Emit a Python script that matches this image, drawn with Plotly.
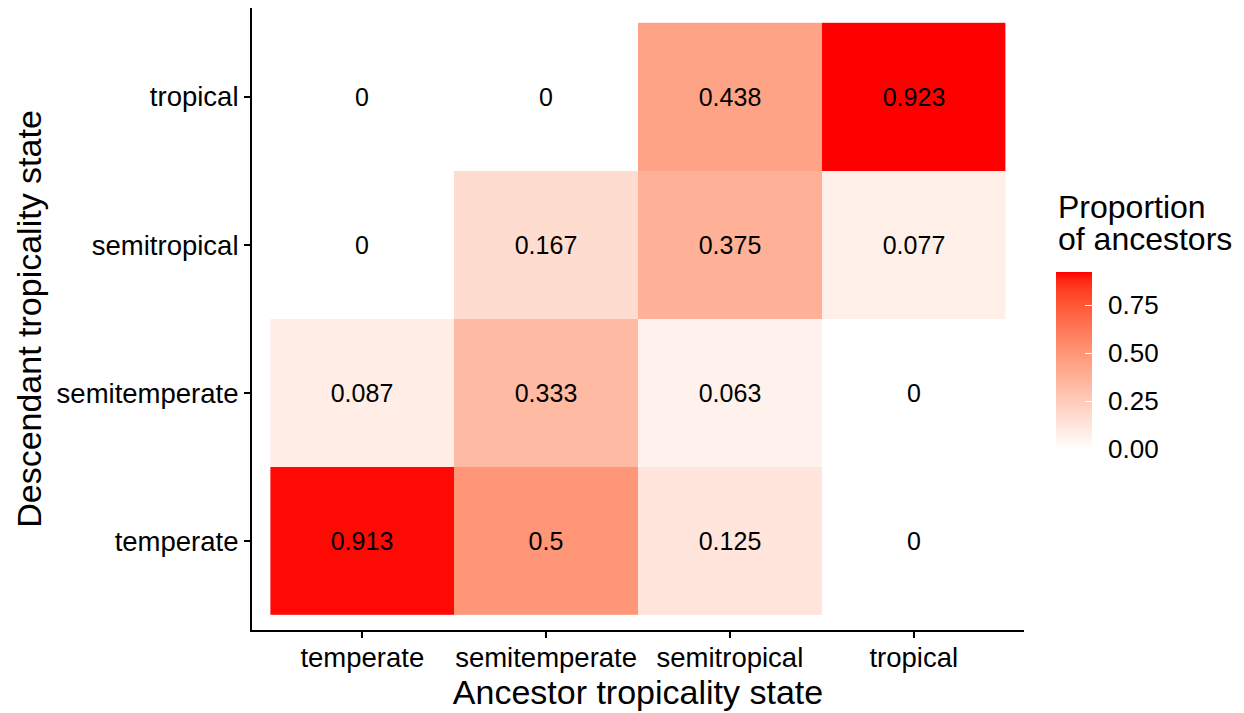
import plotly.graph_objects as go

ancestor = ["temperate", "semitemperate", "semitropical", "tropical"]
descendant = ["temperate", "semitemperate", "semitropical", "tropical"]
# rows = descendant (bottom to top), columns = ancestor
proportion = [
    [0.913, 0.5, 0.125, 0],
    [0.087, 0.333, 0.063, 0],
    [0, 0.167, 0.375, 0.077],
    [0, 0, 0.438, 0.923],
]
labels = [[("%g" % v) for v in row] for row in proportion]
cb_ticks = [0, 0.25, 0.5, 0.75]
cb_ticktext = ["0.00", "0.25", "0.50", "0.75"]
legend_title_lines = ["Proportion", "of ancestors"]


# Lab interpolation white -> red (like ggplot scale_fill_gradient)
def srgb_to_lin(c):
    c = c / 255
    return c / 12.92 if c <= 0.04045 else ((c + 0.055) / 1.055) ** 2.4


def lin_to_srgb(c):
    c = max(0.0, min(1.0, c))
    v = 12.92 * c if c <= 0.0031308 else 1.055 * c ** (1 / 2.4) - 0.055
    return int(round(v * 255))


WX, WY, WZ = 0.95047, 1.0, 1.08883


def rgb_to_lab(rgb):
    r, g, b = [srgb_to_lin(c) for c in rgb]
    X = 0.4124 * r + 0.3576 * g + 0.1805 * b
    Y = 0.2126 * r + 0.7152 * g + 0.0722 * b
    Z = 0.0193 * r + 0.1192 * g + 0.9505 * b

    def f(t):
        return t ** (1 / 3) if t > 0.008856 else 7.787 * t + 16 / 116

    fx, fy, fz = f(X / WX), f(Y / WY), f(Z / WZ)
    return (116 * fy - 16, 500 * (fx - fy), 200 * (fy - fz))


def lab_to_rgb(lab):
    L, a, b = lab
    fy = (L + 16) / 116
    fx = fy + a / 500
    fz = fy - b / 200

    def finv(t):
        return t ** 3 if t ** 3 > 0.008856 else (t - 16 / 116) / 7.787

    X, Y, Z = finv(fx) * WX, finv(fy) * WY, finv(fz) * WZ
    r = 3.2406 * X - 1.5372 * Y - 0.4986 * Z
    g = -0.9689 * X + 1.8758 * Y + 0.0415 * Z
    bb = 0.0557 * X - 0.2040 * Y + 1.0570 * Z
    return (lin_to_srgb(r), lin_to_srgb(g), lin_to_srgb(bb))


lw = rgb_to_lab((255, 255, 255))
lr = rgb_to_lab((255, 0, 0))
colorscale = []
n = 20
for i in range(n + 1):
    t = i / n
    lab = tuple(lw[k] + (lr[k] - lw[k]) * t for k in range(3))
    r, g, b = lab_to_rgb(lab)
    colorscale.append([t, "rgb(%d,%d,%d)" % (r, g, b)])

font = "Liberation Sans, Arial, Helvetica, sans-serif"
pad = "\u2009\u2009"

fig = go.Figure(
    go.Heatmap(
        x=ancestor,
        y=descendant,
        z=proportion,
        text=labels,
        texttemplate="%{text}",
        textfont=dict(size=25, color="black", family=font),
        colorscale=colorscale,
        zmin=0,
        zmax=max(max(r) for r in proportion),
        xgap=0,
        ygap=0,
        colorbar=dict(
            x=1.0415,
            xanchor="left",
            y=0.4333,
            yanchor="middle",
            len=177,
            lenmode="pixels",
            thickness=36,
            thicknessmode="pixels",
            outlinewidth=0,
            xpad=0,
            ypad=0,
            tickvals=cb_ticks,
            ticktext=[pad + t for t in cb_ticktext],
            ticks="inside",
            ticklen=7,
            tickwidth=1,
            tickcolor="white",
            tickfont=dict(size=26, color="black", family=font),
        ),
        hoverinfo="skip",
    )
)

axis_common = dict(
    showline=True,
    linecolor="black",
    linewidth=2,
    ticks="outside",
    ticklen=6,
    tickwidth=2,
    tickcolor="black",
    showgrid=False,
    zeroline=False,
    tickfont=dict(size=27.5, color="black", family=font),
    range=[-0.6, 3.6],
)

fig.update_layout(
    width=1244,
    height=713,
    margin=dict(l=252, r=220, t=8, b=83),
    paper_bgcolor="white",
    plot_bgcolor="white",
    font=dict(family=font, color="black"),
    xaxis=dict(**axis_common, type="category", ticklabelstandoff=-4,
               title=dict(text="Ancestor tropicality state",
                          font=dict(size=34, color="black", family=font), standoff=2)),
    yaxis=dict(**axis_common, type="category",
               title=dict(text="Descendant tropicality state",
                          font=dict(size=34, color="black", family=font), standoff=5)),
)

for line, ypos in zip(legend_title_lines, [0.6801, 0.6286]):
    fig.add_annotation(
        text=line, xref="paper", yref="paper", x=1.0415, y=ypos,
        xanchor="left", yanchor="middle", showarrow=False,
        font=dict(size=32, color="black", family=font),
    )

fig.write_html("out.html", config={"displayModeBar": False},
               post_script="document.body.style.margin='0px';")
